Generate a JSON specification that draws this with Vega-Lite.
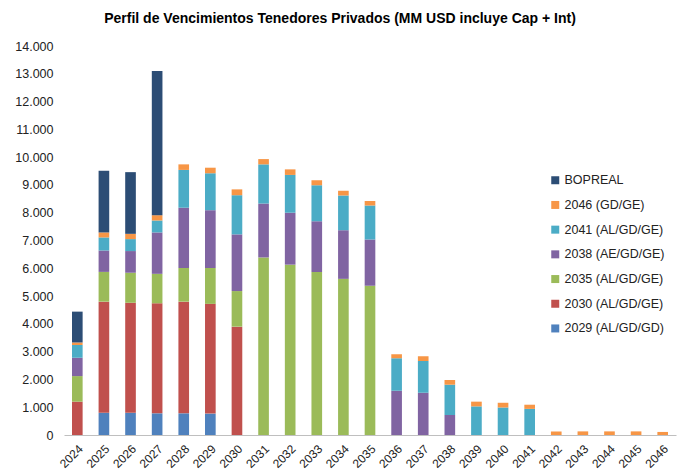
{
  "$schema": "https://vega.github.io/schema/vega-lite/v6.json",
  "width": 612,
  "height": 389,
  "autosize": {"type": "none"},
  "padding": {"left": 64, "top": 46, "right": 8, "bottom": 36},
  "background": "white",
  "title": {
    "text": "Perfil de Vencimientos Tenedores Privados (MM USD incluye Cap + Int)",
    "font": "Liberation Sans",
    "fontSize": 14,
    "fontWeight": "bold",
    "color": "#000000",
    "anchor": "middle",
    "dx": -30,
    "offset": 14
  },
  "config": {
    "view": {"stroke": null},
    "font": "Liberation Sans"
  },
  "data": {
    "values": [
      {"anio": "2024", "serie": "2030 (AL/GD/GE)", "valor": 1.20},
      {"anio": "2024", "serie": "2035 (AL/GD/GE)", "valor": 0.92},
      {"anio": "2024", "serie": "2038 (AE/GD/GE)", "valor": 0.66},
      {"anio": "2024", "serie": "2041 (AL/GD/GE)", "valor": 0.46},
      {"anio": "2024", "serie": "2046 (GD/GE)", "valor": 0.09},
      {"anio": "2024", "serie": "BOPREAL", "valor": 1.11},
      {"anio": "2025", "serie": "2029 (AL/GD/GD)", "valor": 0.80},
      {"anio": "2025", "serie": "2030 (AL/GD/GE)", "valor": 4.00},
      {"anio": "2025", "serie": "2035 (AL/GD/GE)", "valor": 1.07},
      {"anio": "2025", "serie": "2038 (AE/GD/GE)", "valor": 0.77},
      {"anio": "2025", "serie": "2041 (AL/GD/GE)", "valor": 0.47},
      {"anio": "2025", "serie": "2046 (GD/GE)", "valor": 0.18},
      {"anio": "2025", "serie": "BOPREAL", "valor": 2.22},
      {"anio": "2026", "serie": "2029 (AL/GD/GD)", "valor": 0.80},
      {"anio": "2026", "serie": "2030 (AL/GD/GE)", "valor": 3.96},
      {"anio": "2026", "serie": "2035 (AL/GD/GE)", "valor": 1.08},
      {"anio": "2026", "serie": "2038 (AE/GD/GE)", "valor": 0.78},
      {"anio": "2026", "serie": "2041 (AL/GD/GE)", "valor": 0.43},
      {"anio": "2026", "serie": "2046 (GD/GE)", "valor": 0.19},
      {"anio": "2026", "serie": "BOPREAL", "valor": 2.22},
      {"anio": "2027", "serie": "2029 (AL/GD/GD)", "valor": 0.78},
      {"anio": "2027", "serie": "2030 (AL/GD/GE)", "valor": 3.96},
      {"anio": "2027", "serie": "2035 (AL/GD/GE)", "valor": 1.06},
      {"anio": "2027", "serie": "2038 (AE/GD/GE)", "valor": 1.49},
      {"anio": "2027", "serie": "2041 (AL/GD/GE)", "valor": 0.43},
      {"anio": "2027", "serie": "2046 (GD/GE)", "valor": 0.19},
      {"anio": "2027", "serie": "BOPREAL", "valor": 5.19},
      {"anio": "2028", "serie": "2029 (AL/GD/GD)", "valor": 0.78},
      {"anio": "2028", "serie": "2030 (AL/GD/GE)", "valor": 4.02},
      {"anio": "2028", "serie": "2035 (AL/GD/GE)", "valor": 1.21},
      {"anio": "2028", "serie": "2038 (AE/GD/GE)", "valor": 2.17},
      {"anio": "2028", "serie": "2041 (AL/GD/GE)", "valor": 1.36},
      {"anio": "2028", "serie": "2046 (GD/GE)", "valor": 0.20},
      {"anio": "2029", "serie": "2029 (AL/GD/GD)", "valor": 0.77},
      {"anio": "2029", "serie": "2030 (AL/GD/GE)", "valor": 3.95},
      {"anio": "2029", "serie": "2035 (AL/GD/GE)", "valor": 1.29},
      {"anio": "2029", "serie": "2038 (AE/GD/GE)", "valor": 2.08},
      {"anio": "2029", "serie": "2041 (AL/GD/GE)", "valor": 1.33},
      {"anio": "2029", "serie": "2046 (GD/GE)", "valor": 0.20},
      {"anio": "2030", "serie": "2030 (AL/GD/GE)", "valor": 3.90},
      {"anio": "2030", "serie": "2035 (AL/GD/GE)", "valor": 1.28},
      {"anio": "2030", "serie": "2038 (AE/GD/GE)", "valor": 2.04},
      {"anio": "2030", "serie": "2041 (AL/GD/GE)", "valor": 1.41},
      {"anio": "2030", "serie": "2046 (GD/GE)", "valor": 0.21},
      {"anio": "2031", "serie": "2035 (AL/GD/GE)", "valor": 6.39},
      {"anio": "2031", "serie": "2038 (AE/GD/GE)", "valor": 1.94},
      {"anio": "2031", "serie": "2041 (AL/GD/GE)", "valor": 1.41},
      {"anio": "2031", "serie": "2046 (GD/GE)", "valor": 0.19},
      {"anio": "2032", "serie": "2035 (AL/GD/GE)", "valor": 6.13},
      {"anio": "2032", "serie": "2038 (AE/GD/GE)", "valor": 1.87},
      {"anio": "2032", "serie": "2041 (AL/GD/GE)", "valor": 1.36},
      {"anio": "2032", "serie": "2046 (GD/GE)", "valor": 0.20},
      {"anio": "2033", "serie": "2035 (AL/GD/GE)", "valor": 5.87},
      {"anio": "2033", "serie": "2038 (AE/GD/GE)", "valor": 1.82},
      {"anio": "2033", "serie": "2041 (AL/GD/GE)", "valor": 1.30},
      {"anio": "2033", "serie": "2046 (GD/GE)", "valor": 0.18},
      {"anio": "2034", "serie": "2035 (AL/GD/GE)", "valor": 5.62},
      {"anio": "2034", "serie": "2038 (AE/GD/GE)", "valor": 1.75},
      {"anio": "2034", "serie": "2041 (AL/GD/GE)", "valor": 1.25},
      {"anio": "2034", "serie": "2046 (GD/GE)", "valor": 0.17},
      {"anio": "2035", "serie": "2035 (AL/GD/GE)", "valor": 5.37},
      {"anio": "2035", "serie": "2038 (AE/GD/GE)", "valor": 1.67},
      {"anio": "2035", "serie": "2041 (AL/GD/GE)", "valor": 1.22},
      {"anio": "2035", "serie": "2046 (GD/GE)", "valor": 0.16},
      {"anio": "2036", "serie": "2038 (AE/GD/GE)", "valor": 1.59},
      {"anio": "2036", "serie": "2041 (AL/GD/GE)", "valor": 1.17},
      {"anio": "2036", "serie": "2046 (GD/GE)", "valor": 0.15},
      {"anio": "2037", "serie": "2038 (AE/GD/GE)", "valor": 1.52},
      {"anio": "2037", "serie": "2041 (AL/GD/GE)", "valor": 1.14},
      {"anio": "2037", "serie": "2046 (GD/GE)", "valor": 0.17},
      {"anio": "2038", "serie": "2038 (AE/GD/GE)", "valor": 0.72},
      {"anio": "2038", "serie": "2041 (AL/GD/GE)", "valor": 1.09},
      {"anio": "2038", "serie": "2046 (GD/GE)", "valor": 0.17},
      {"anio": "2039", "serie": "2041 (AL/GD/GE)", "valor": 1.03},
      {"anio": "2039", "serie": "2046 (GD/GE)", "valor": 0.17},
      {"anio": "2040", "serie": "2041 (AL/GD/GE)", "valor": 0.99},
      {"anio": "2040", "serie": "2046 (GD/GE)", "valor": 0.17},
      {"anio": "2041", "serie": "2041 (AL/GD/GE)", "valor": 0.94},
      {"anio": "2041", "serie": "2046 (GD/GE)", "valor": 0.15},
      {"anio": "2042", "serie": "2046 (GD/GE)", "valor": 0.13},
      {"anio": "2043", "serie": "2046 (GD/GE)", "valor": 0.13},
      {"anio": "2044", "serie": "2046 (GD/GE)", "valor": 0.13},
      {"anio": "2045", "serie": "2046 (GD/GE)", "valor": 0.13},
      {"anio": "2046", "serie": "2046 (GD/GE)", "valor": 0.11}
    ]
  },
  "mark": {"type": "bar"},
  "encoding": {
    "x": {
      "field": "anio",
      "type": "ordinal",
      "title": null,
      "scale": {"paddingInner": 0.6, "paddingOuter": 0.3},
      "axis": {
        "labelAngle": -45,
        "labelFont": "Liberation Sans",
        "labelFontSize": 12,
        "labelColor": "#222222",
        "ticks": false,
        "domainColor": "#BFBFBF",
        "domainWidth": 1,
        "labelPadding": 8
      }
    },
    "y": {
      "field": "valor",
      "type": "quantitative",
      "aggregate": "sum",
      "stack": "zero",
      "title": null,
      "scale": {"domain": [0, 14]},
      "axis": {
        "values": [0, 1, 2, 3, 4, 5, 6, 7, 8, 9, 10, 11, 12, 13, 14],
        "labelExpr": "datum.value == 0 ? '0' : replace(format(datum.value * 1000, ',.0f'), ',', '.')",
        "grid": false,
        "domain": false,
        "ticks": false,
        "labelFont": "Liberation Sans",
        "labelFontSize": 12.5,
        "labelColor": "#222222",
        "labelPadding": 11
      }
    },
    "color": {
      "field": "serie",
      "type": "nominal",
      "scale": {
        "domain": ["BOPREAL", "2046 (GD/GE)", "2041 (AL/GD/GE)", "2038 (AE/GD/GE)", "2035 (AL/GD/GE)", "2030 (AL/GD/GE)", "2029 (AL/GD/GD)"],
        "range": ["#2C4D75", "#F79646", "#4BACC6", "#8064A2", "#9BBB59", "#C0504D", "#4F81BD"]
      },
      "legend": {
        "title": null,
        "orient": "none",
        "legendX": 485,
        "legendY": 128,
        "symbolType": "square",
        "symbolSize": 64,
        "symbolStrokeWidth": 0,
        "labelFont": "Liberation Sans",
        "labelFontSize": 12.5,
        "labelColor": "#222222",
        "labelOffset": 3,
        "rowPadding": 11.7
      }
    },
    "order": {"field": "serie", "sort": "ascending"}
  }
}
